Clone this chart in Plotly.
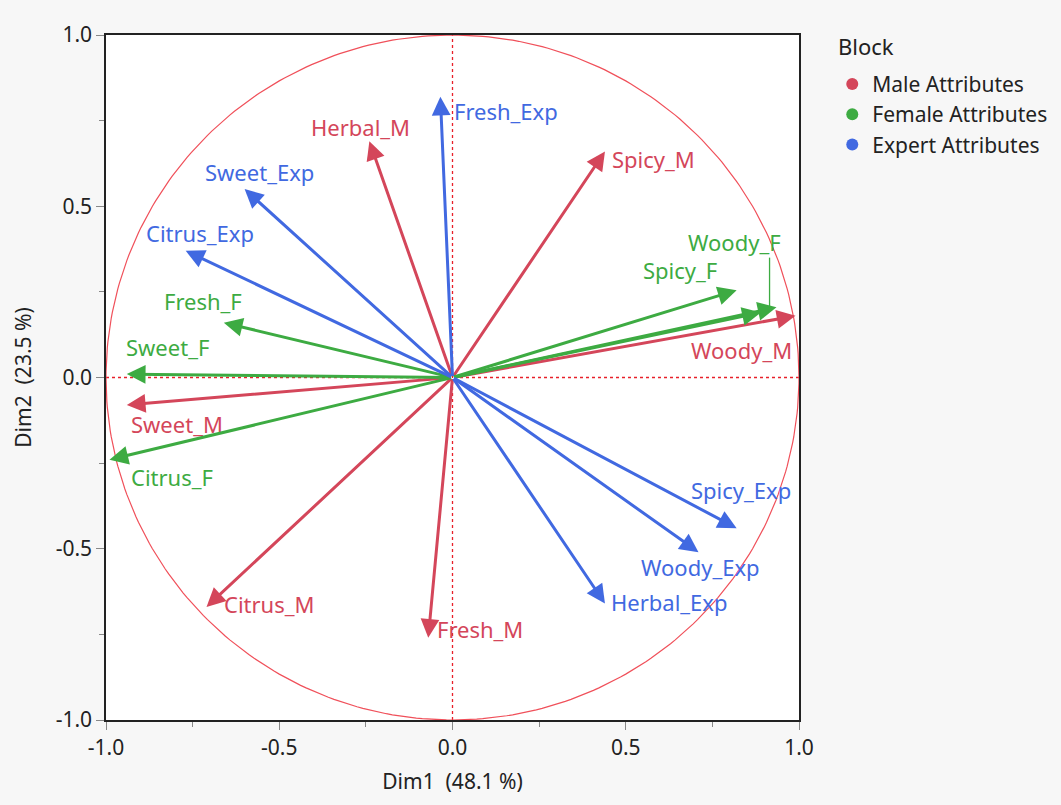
import numpy as np
import plotly.graph_objects as go

# ---- data ----
male_names = ["Herbal_M", "Spicy_M", "Woody_M", "Sweet_M", "Citrus_M", "Fresh_M"]
male_x = [-0.24, 0.44, 0.99, -0.94, -0.71, -0.07]
male_y = [0.69, 0.66, 0.18, -0.08, -0.67, -0.76]

female_names = ["Woody_F", "Herbal_F", "Spicy_F", "Fresh_F", "Sweet_F", "Citrus_F"]
female_x = [0.935, 0.89, 0.82, -0.66, -0.94, -0.99]
female_y = [0.205, 0.19, 0.255, 0.16, 0.01, -0.24]

expert_names = ["Fresh_Exp", "Sweet_Exp", "Citrus_Exp", "Spicy_Exp", "Woody_Exp", "Herbal_Exp"]
expert_x = [-0.035, -0.60, -0.77, 0.82, 0.71, 0.44]
expert_y = [0.82, 0.55, 0.37, -0.44, -0.51, -0.66]

legend_title = "Block"
block_names = ["Male Attributes", "Female Attributes", "Expert Attributes"]
x_title = "Dim1&nbsp; (48.1 %)"
y_title = "Dim2&nbsp; (23.5 %)"
tick_vals = [-1.0, -0.5, 0.0, 0.5, 1.0]
tick_text = ["-1.0", "-0.5", "0.0", "0.5", "1.0"]

# ---- style ----
RED = "#d4465a"
GREEN = "#3dab42"
BLUE = "#4169e1"
FONT = "Noto Sans"
LBL = 22

# label placement: (xanchor, xshift, yshift) with yanchor middle; None = no label
label_pos = {
    "Herbal_M": ("center", -9, 14),
    "Spicy_M": ("left", 5, -8),
    "Woody_M": ("right", -2, -34),
    "Sweet_M": ("left", 2, -19),
    "Citrus_M": ("left", 16, 3),
    "Fresh_M": ("left", 7, 9),
    "Woody_F": ("center", -42, 65),
    "Herbal_F": None,
    "Spicy_F": ("right", -18, 20),
    "Fresh_F": ("center", -21, 22),
    "Sweet_F": ("left", -3, 27),
    "Citrus_F": ("left", 20, -17),
    "Fresh_Exp": ("left", 12, -14),
    "Sweet_Exp": ("center", 15, 17),
    "Citrus_Exp": ("center", 14, 18),
    "Spicy_Exp": ("center", 4, 38),
    "Woody_Exp": ("center", 2, -15),
    "Herbal_Exp": ("left", 4, 2),
}

fig = go.Figure()

# dashed reference lines
fig.add_trace(go.Scatter(x=[0, 0], y=[-1, 1], mode="lines",
                         line=dict(color="#e8202a", width=1.3, dash="3px,3px"),
                         hoverinfo="skip", showlegend=False))
fig.add_trace(go.Scatter(x=[-1, 1], y=[0, 0], mode="lines",
                         line=dict(color="#e8202a", width=1.3, dash="3px,3px"),
                         hoverinfo="skip", showlegend=False))

# unit circle
t = np.linspace(0, 2 * np.pi, 361)
fig.add_trace(go.Scatter(x=np.cos(t), y=np.sin(t), mode="lines",
                         line=dict(color="#f0505a", width=1.2),
                         hoverinfo="skip", showlegend=False))

# legend entries
for name, col in zip(block_names, [RED, GREEN, BLUE]):
    fig.add_trace(go.Scatter(x=[None], y=[None], mode="markers", name=name,
                             marker=dict(color=col, size=13, symbol="circle")))

annotations = []
groups = [(male_names, male_x, male_y, RED),
          (female_names, female_x, female_y, GREEN),
          (expert_names, expert_x, expert_y, BLUE)]
for names, xs, ys, col in groups:
    for n, vx, vy in zip(names, xs, ys):
        annotations.append(dict(x=vx, y=vy, ax=0, ay=0, xref="x", yref="y",
                                axref="x", ayref="y", showarrow=True, text="",
                                arrowhead=2, arrowsize=1.25, arrowwidth=3,
                                arrowcolor=col))
        pos = label_pos.get(n)
        if pos is None:
            continue
        xa, xs_, ys_ = pos
        annotations.append(dict(x=vx, y=vy, xref="x", yref="y", text=n,
                                showarrow=False, xanchor=xa, yanchor="middle",
                                xshift=xs_, yshift=ys_,
                                font=dict(family=FONT, size=LBL, color=col)))

# legend title as text
annotations.append(dict(x=1.053, y=1.0, xref="paper", yref="paper",
                        text=legend_title, showarrow=False,
                        xanchor="left", yanchor="top", yshift=6,
                        font=dict(family=FONT, size=22, color="#222")))

fig.update_layout(annotations=annotations)

# leader line for Woody_F label
wf = female_names.index("Woody_F")
fig.add_shape(type="line", x0=female_x[wf] - 0.02, x1=female_x[wf] - 0.02,
              y0=female_y[wf], y1=female_y[wf] + 0.145,
              line=dict(color=GREEN, width=1.3))

axis_common = dict(range=[-1, 1], tickvals=tick_vals, ticktext=tick_text,
                   ticks="outside", ticklen=8, tickcolor="#888",
                   showgrid=False, zeroline=False, showline=True,
                   linecolor="#222", linewidth=1.5, mirror=True,
                   tickfont=dict(family=FONT, size=21, color="#222"),
                   minor=dict(tickvals=[-0.75, -0.25, 0.25, 0.75],
                              ticks="outside", ticklen=5, tickcolor="#888"))

fig.update_xaxes(**axis_common, title=dict(text=x_title, standoff=14,
                 font=dict(family=FONT, size=21, color="#222")))
fig.update_yaxes(**axis_common, title=dict(text=y_title, standoff=18,
                 font=dict(family=FONT, size=21, color="#222")))

fig.update_layout(
    width=1061, height=805,
    margin=dict(l=106, r=262, t=35, b=85, autoexpand=False),
    paper_bgcolor="#f7f7f7", plot_bgcolor="#ffffff",
    legend=dict(x=1.048, y=0.958, xanchor="left", yanchor="top",
                font=dict(family=FONT, size=21, color="#222"),
                bgcolor="rgba(0,0,0,0)", itemsizing="constant",
                tracegroupgap=0),
    showlegend=True,
)

fig.write_html("out.html")
